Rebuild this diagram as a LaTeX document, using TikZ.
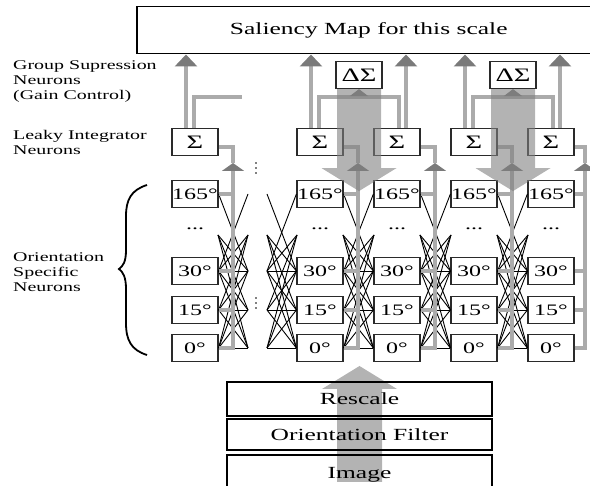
\documentclass[tikz,border=0pt]{standalone}
\usepackage{fontspec}
\setmainfont[FakeStretch=1.5]{Liberation Serif}
\usetikzlibrary{arrows.meta, calc}
\definecolor{wire_gray}{HTML}{ABABAB}
\definecolor{tip_gray}{HTML}{7A7A7A}
\definecolor{flow_gray}{HTML}{808080}
\definecolor{box_dark}{HTML}{2A2A2A}

\begin{document}
\begin{tikzpicture}[
    x=1pt, y=-1pt,
    neuron/.style={draw=box_dark, line width=1.2pt, minimum width=46pt,
        minimum height=27pt, inner sep=0pt, font=\fontsize{16}{18}\selectfont},
    sumbox/.style={neuron, font=\fontsize{19}{20}\selectfont},
    stage/.style={draw=black, line width=2pt, minimum width=265pt,
        inner sep=0pt, font=\fontsize{17}{19}\selectfont},
    wire/.style={wire_gray, line width=3.5pt},
    link/.style={black, line width=0.9pt},
    bigflow/.style={fill=flow_gray, opacity=0.6},
    sidetext/.style={align=left, anchor=west, inner sep=0pt,
        font=\fontsize{13.3}{15}\selectfont},
    saltip/.style={-{Triangle[width=22pt, length=12pt, color=tip_gray]}},
    midtip/.style={-{Triangle[width=22pt, length=8pt, color=tip_gray]}}
]
\useasboundingbox (0,0) rectangle (590,486);
\clip (0,0) rectangle (590,486);

% ---------------------------------------------------------------
%  Pixel grid: x to the right, y downwards (590 x 486)
%  Rows: 0deg y348, 15deg y310, 30deg y271, dots y235, 165deg y194
% ---------------------------------------------------------------

\node[draw=black, line width=1.5pt, minimum width=464pt, minimum height=47pt,
    anchor=north west, inner sep=0pt, font=\fontsize{17}{19}\selectfont]
    (sal) at (136,6) {Saliency Map for this scale};

% ---- Orientation columns ----
\foreach \k/\cx in {1/195, 2/320, 3/397, 4/474, 5/551} {
    \node[neuron] (n\k-0) at (\cx,348) {0°};
    \node[neuron] (n\k-1) at (\cx,310) {15°};
    \node[neuron] (n\k-2) at (\cx,271) {30°};
    \node[font=\fontsize{16}{18}\selectfont] (n\k-dots) at (\cx,229) {...};
    \node[neuron] (n\k-4) at (\cx,194) {165°};
    \node[sumbox] (s\k) at (\cx,142) {Σ};
    \coordinate (W\k-3) at (\cx-23,235);
    \coordinate (E\k-3) at (\cx+23,235);
    \foreach \i in {0,1,2,4} {
        \coordinate (W\k-\i) at (n\k-\i.west);
        \coordinate (E\k-\i) at (n\k-\i.east);
    }
}

% neighbours that are left out (column a right of 1, column b left of 2)
\foreach \i/\yy in {0/348, 1/310, 2/271, 3/235, 4/194} {
    \coordinate (Wa-\i) at (248,\yy);
    \coordinate (Eb-\i) at (267,\yy);
}

\node[sumbox] (d1) at (359,75) {ΔΣ};
\node[sumbox] (d2) at (513,75) {ΔΣ};

% ---- Lateral links between neighbouring columns ----
\foreach \l/\r in {1/a, b/2, 2/3, 3/4, 4/5}
    \foreach \i/\j in {0/0, 0/1, 0/2, 0/3, 1/0, 1/1, 1/2, 1/3,
                       2/0, 2/1, 2/2, 2/3, 3/0, 3/1, 3/2, 4/2, 2/4}
        \draw[link] (E\l-\i) -- (W\r-\j);

% ---- Collectors: orientation neurons -> leaky integrator ----
\foreach \k/\gx in {1/233, 2/358, 3/435, 4/512, 5/585} {
    \coordinate (g\k) at (\gx,163);
    \draw[wire, midtip] (n\k-0.east) -| (g\k);
    \draw[wire] (g\k) |- ([yshift=-5pt]s\k.east);
    \draw[wire] (n\k-1.east) -- (n\k-1.east -| g\k);
    \draw[wire] (n\k-2.east) -- (n\k-2.east -| g\k);
    \draw[wire] (n\k-4.east) -- (n\k-4.east -| g\k);
}

% ---- Integrators -> saliency map ----
\foreach \k/\so in {1/-9, 2/-9, 3/9, 4/-9, 5/9}
    \draw[wire, saltip] ([xshift=\so pt]s\k.north)
        -- ([xshift=\so pt]s\k.north |- sal.south);

% ---- Gain control loops ----
\coordinate (gfree) at (242,97);
\draw[wire] ([xshift=-1pt]s1.north) |- (gfree);
\draw[wire] ([xshift=-1pt]s2.north) |- (d1.south |- gfree) -| ([xshift=2pt]s3.north);
\draw[wire] ([xshift=-1pt]s4.north) |- (d2.south |- gfree) -| ([xshift=2pt]s5.north);
\draw[wire, -{Triangle[width=18pt, length=7pt, color=tip_gray]}]
    (d1.south |- gfree) -- (d1.south);
\draw[wire, -{Triangle[width=18pt, length=7pt, color=tip_gray]}]
    (d2.south |- gfree) -- (d2.south);

% ---- Broad feedback arrows from the group neurons ----
\foreach \d in {d1, d2}
    \fill[bigflow] ($(\d.south)+(-22,0)$) -- ++(0,79) -- ++(-15.5,0)
        -- ($(\d.south)+(0,102)$) -- ($(\d.south)+(37.5,79)$)
        -- ++(-15.5,0) -- ($(\d.south)+(22,0)$) -- cycle;

% ---- Input stages (broad arrow first, text on top) ----
\coordinate (rtop) at (359.5,382);
\fill[bigflow] ($(rtop)+(-22.5,100)$) -- ++(0,-93) -- ++(-15,0)
    -- ($(rtop)+(0,-16)$) -- ($(rtop)+(37.5,7)$)
    -- ++(-15,0) -- ++(0,93) -- cycle;

\node[stage, minimum height=34pt] (rescale) at (359.5,399) {Rescale};
\node[stage, minimum height=31pt] (filter) at (359.5,434.5) {Orientation Filter};
\node[stage, minimum height=40pt, anchor=north] (image) at (359.5,454)
    {\raisebox{4pt}{Image}};

% ---- Side labels and brace ----
\node[sidetext] (lgroup) at (13,82)
    {Group Supression\\Neurons\\(Gain Control)};
\node[sidetext] (lleaky) at (13,142) {Leaky Integrator\\Neurons};
\node[sidetext] (lorient) at (13,272) {Orientation\\Specific\\Neurons};

\draw[black, line width=1.8pt]
    (147,185) .. controls (131,190) and (126,200) .. (126,216) -- (126,250)
    .. controls (126,262) and (123,266) .. (119,269)
    .. controls (123,272) and (126,277) .. (126,289) -- (126,323)
    .. controls (126,340) and (131,350) .. (147,355);

% ---- Vertical ellipses in the gap ----
\foreach \yy in {163, 168, 173, 298, 303, 308}
    \fill[black] (256,\yy) circle (0.9pt);

\end{tikzpicture}
\end{document}
